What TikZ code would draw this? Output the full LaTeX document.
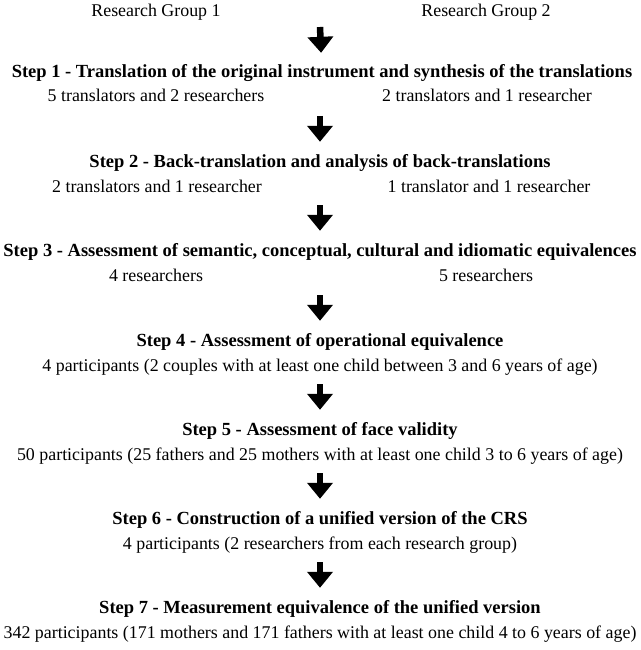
\documentclass[tikz,border=0pt]{standalone}
\usepackage{fontspec}
\setmainfont{Liberation Serif}
\usetikzlibrary{arrows.meta}

\tikzset{
  txt/.style={anchor=base,inner sep=0pt,text height=11pt,text depth=3pt,
    font=\fontsize{17.9}{21}\selectfont},
  title/.style={txt,font=\fontsize{18.5}{22}\selectfont\bfseries},
  bigarrow/.style={line width=6.5pt,shorten >=14pt,
    -{Triangle[width=25pt,length=16pt]}}
}

\begin{document}
\begin{tikzpicture}[x=1pt,y=1pt]
\useasboundingbox (0,0) rectangle (640,-650);

% research groups
\node[txt] (g1) at (156,-17) {Research Group 1};
\node[txt] (g2) at (486,-17) {Research Group 2};

% steps
\node[title] (t1) at (322,-78) {Step 1 - Translation of the original instrument and synthesis of the translations};
\node[txt] (l1) at (156,-102) {5 translators and 2 researchers};
\node[txt] (r1) at (487,-102) {2 translators and 1 researcher};

\node[title] (t2) at (320,-167) {Step 2 - Back-translation and analysis of back-translations};
\node[txt] (l2) at (157,-192) {2 translators and 1 researcher};
\node[txt] (r2) at (489,-192) {1 translator and 1 researcher};

\node[title] (t3) at (320,-256) {Step 3 - Assessment of semantic, conceptual, cultural and idiomatic equivalences};
\node[txt] (l3) at (156,-281) {4 researchers};
\node[txt] (r3) at (486,-281) {5 researchers};

\node[title] (t4) at (320,-346) {Step 4 - Assessment of operational equivalence};
\node[txt] (p4) at (320,-371) {4 participants (2 couples with at least one child between 3 and 6 years of age)};

\node[title] (t5) at (320,-435) {Step 5 - Assessment of face validity};
\node[txt] (p5) at (320,-460) {50 participants (25 fathers and 25 mothers with at least one child 3 to 6 years of age)};

\node[title] (t6) at (320,-524) {Step 6 - Construction of a unified version of the CRS};
\node[txt] (p6) at (320,-549) {4 participants (2 researchers from each research group)};

\node[title] (t7) at (320,-613) {Step 7 - Measurement equivalence of the unified version};
\node[txt] (p7) at (320,-638) {342 participants (171 mothers and 171 fathers with at least one child 4 to 6 years of age)};

% arrows
\coordinate (a1) at (320,-27);
\coordinate (a2) at (320,-116);
\coordinate (a3) at (320,-205);
\coordinate (a4) at (320,-295);
\coordinate (a5) at (320,-384);
\coordinate (a6) at (320,-473);
\coordinate (a7) at (320,-562);
\draw[bigarrow] (a1) -- (t1);
\draw[bigarrow] (a2) -- (t2);
\draw[bigarrow] (a3) -- (t3);
\draw[bigarrow] (a4) -- (t4);
\draw[bigarrow] (a5) -- (t5);
\draw[bigarrow] (a6) -- (t6);
\draw[bigarrow] (a7) -- (t7);
\end{tikzpicture}
\end{document}
